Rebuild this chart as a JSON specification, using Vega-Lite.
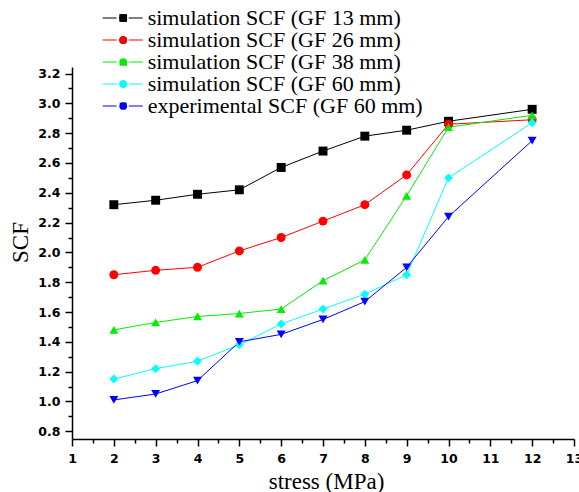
{
  "$schema": "https://vega.github.io/schema/vega-lite/v6.json",
  "width": 502,
  "height": 372,
  "autosize": {"type": "none"},
  "padding": {"left": 72, "top": 67, "right": 5, "bottom": 53},
  "background": "white",
  "config": {
    "view": {"stroke": null},
    "axis": {
      "grid": false,
      "labelFont": "DejaVu Sans",
      "labelFontWeight": "bold",
      "labelFontSize": 12.5,
      "labelColor": "black",
      "domainColor": "black",
      "domainWidth": 1.5,
      "tickColor": "black",
      "tickWidth": 1.5,
      "titleFont": "Liberation Serif",
      "titleFontWeight": "normal",
      "titleFontSize": 23,
      "titleColor": "black"
    }
  },
  "data": {
    "values": [
      {"series": "simulation SCF (GF 13 mm)", "stress": 2, "SCF": 2.32},
      {"series": "simulation SCF (GF 13 mm)", "stress": 3, "SCF": 2.35},
      {"series": "simulation SCF (GF 13 mm)", "stress": 4, "SCF": 2.39},
      {"series": "simulation SCF (GF 13 mm)", "stress": 5, "SCF": 2.42},
      {"series": "simulation SCF (GF 13 mm)", "stress": 6, "SCF": 2.57},
      {"series": "simulation SCF (GF 13 mm)", "stress": 7, "SCF": 2.68},
      {"series": "simulation SCF (GF 13 mm)", "stress": 8, "SCF": 2.78},
      {"series": "simulation SCF (GF 13 mm)", "stress": 9, "SCF": 2.82},
      {"series": "simulation SCF (GF 13 mm)", "stress": 10, "SCF": 2.88},
      {"series": "simulation SCF (GF 13 mm)", "stress": 12, "SCF": 2.96},
      {"series": "simulation SCF (GF 26 mm)", "stress": 2, "SCF": 1.85},
      {"series": "simulation SCF (GF 26 mm)", "stress": 3, "SCF": 1.88},
      {"series": "simulation SCF (GF 26 mm)", "stress": 4, "SCF": 1.9},
      {"series": "simulation SCF (GF 26 mm)", "stress": 5, "SCF": 2.01},
      {"series": "simulation SCF (GF 26 mm)", "stress": 6, "SCF": 2.1},
      {"series": "simulation SCF (GF 26 mm)", "stress": 7, "SCF": 2.21},
      {"series": "simulation SCF (GF 26 mm)", "stress": 8, "SCF": 2.32},
      {"series": "simulation SCF (GF 26 mm)", "stress": 9, "SCF": 2.52},
      {"series": "simulation SCF (GF 26 mm)", "stress": 10, "SCF": 2.86},
      {"series": "simulation SCF (GF 26 mm)", "stress": 12, "SCF": 2.89},
      {"series": "simulation SCF (GF 38 mm)", "stress": 2, "SCF": 1.48},
      {"series": "simulation SCF (GF 38 mm)", "stress": 3, "SCF": 1.53},
      {"series": "simulation SCF (GF 38 mm)", "stress": 4, "SCF": 1.57},
      {"series": "simulation SCF (GF 38 mm)", "stress": 5, "SCF": 1.59},
      {"series": "simulation SCF (GF 38 mm)", "stress": 6, "SCF": 1.62},
      {"series": "simulation SCF (GF 38 mm)", "stress": 7, "SCF": 1.81},
      {"series": "simulation SCF (GF 38 mm)", "stress": 8, "SCF": 1.95},
      {"series": "simulation SCF (GF 38 mm)", "stress": 9, "SCF": 2.38},
      {"series": "simulation SCF (GF 38 mm)", "stress": 10, "SCF": 2.84},
      {"series": "simulation SCF (GF 38 mm)", "stress": 12, "SCF": 2.92},
      {"series": "simulation SCF (GF 60 mm)", "stress": 2, "SCF": 1.15},
      {"series": "simulation SCF (GF 60 mm)", "stress": 3, "SCF": 1.22},
      {"series": "simulation SCF (GF 60 mm)", "stress": 4, "SCF": 1.27},
      {"series": "simulation SCF (GF 60 mm)", "stress": 5, "SCF": 1.38},
      {"series": "simulation SCF (GF 60 mm)", "stress": 6, "SCF": 1.52},
      {"series": "simulation SCF (GF 60 mm)", "stress": 7, "SCF": 1.62},
      {"series": "simulation SCF (GF 60 mm)", "stress": 8, "SCF": 1.72},
      {"series": "simulation SCF (GF 60 mm)", "stress": 9, "SCF": 1.85},
      {"series": "simulation SCF (GF 60 mm)", "stress": 10, "SCF": 2.5},
      {"series": "simulation SCF (GF 60 mm)", "stress": 12, "SCF": 2.87},
      {"series": "experimental SCF (GF 60 mm)", "stress": 2, "SCF": 1.01},
      {"series": "experimental SCF (GF 60 mm)", "stress": 3, "SCF": 1.05},
      {"series": "experimental SCF (GF 60 mm)", "stress": 4, "SCF": 1.14},
      {"series": "experimental SCF (GF 60 mm)", "stress": 5, "SCF": 1.4},
      {"series": "experimental SCF (GF 60 mm)", "stress": 6, "SCF": 1.45},
      {"series": "experimental SCF (GF 60 mm)", "stress": 7, "SCF": 1.55},
      {"series": "experimental SCF (GF 60 mm)", "stress": 8, "SCF": 1.67},
      {"series": "experimental SCF (GF 60 mm)", "stress": 9, "SCF": 1.9},
      {"series": "experimental SCF (GF 60 mm)", "stress": 10, "SCF": 2.24},
      {"series": "experimental SCF (GF 60 mm)", "stress": 12, "SCF": 2.75}
    ]
  },
  "encoding": {
    "x": {
      "field": "stress",
      "type": "quantitative",
      "scale": {"domain": [1, 13], "nice": false, "zero": false},
      "axis": {
        "values": [1, 1.5, 2, 2.5, 3, 3.5, 4, 4.5, 5, 5.5, 6, 6.5, 7, 7.5, 8, 8.5, 9, 9.5, 10, 10.5, 11, 11.5, 12, 12.5, 13],
        "labelExpr": "datum.value % 1 === 0 ? format(datum.value, 'd') : ''",
        "tickSize": {"condition": {"test": "datum.value % 1 === 0", "value": 7}, "value": 4},
        "labelPadding": 6,
        "labelFlush": false,
        "labelOverlap": false,
        "title": "stress (MPa)",
        "titleX": 254,
        "titleY": 49.7,
        "titleBaseline": "alphabetic"
      }
    },
    "y": {
      "field": "SCF",
      "type": "quantitative",
      "scale": {"domain": [0.748, 3.244], "nice": false, "zero": false},
      "axis": {
        "values": [0.8, 0.9, 1.0, 1.1, 1.2, 1.3, 1.4, 1.5, 1.6, 1.7, 1.8, 1.9, 2.0, 2.1, 2.2, 2.3, 2.4, 2.5, 2.6, 2.7, 2.8, 2.9, 3.0, 3.1, 3.2],
        "labelExpr": "round(datum.value * 10) % 2 === 0 ? format(datum.value, '.1f') : ''",
        "tickSize": {"condition": {"test": "round(datum.value * 10) % 2 === 0", "value": 7}, "value": 4},
        "labelPadding": 5,
        "labelOverlap": false,
        "title": "SCF",
        "titleX": -45,
        "titleY": 175,
        "titleAngle": -90,
        "titleBaseline": "alphabetic"
      }
    }
  },
  "layer": [
    {
      "mark": {"type": "line", "strokeWidth": 1},
      "encoding": {
        "stroke": {
          "field": "series",
          "type": "nominal",
          "scale": {
            "domain": ["simulation SCF (GF 13 mm)", "simulation SCF (GF 26 mm)", "simulation SCF (GF 38 mm)", "simulation SCF (GF 60 mm)", "experimental SCF (GF 60 mm)"],
            "range": ["#000000", "#ff0000", "#00ee00", "#00ffff", "#0000ff"]
          },
          "legend": {
            "orient": "none",
            "legendX": 39.7,
            "legendY": -60,
            "title": null,
            "padding": 0,
            "symbolType": "M-4,0H-1.2M1.2,0H4",
            "symbolSize": 100,
            "symbolStrokeWidth": 1,
            "labelFont": "Liberation Serif",
            "labelFontSize": 22,
            "labelColor": "black",
            "labelOffset": 14,
            "labelLimit": 450,
            "rowPadding": 0
          }
        }
      }
    },
    {
      "mark": {"type": "point", "filled": true, "size": 80, "opacity": 1, "strokeWidth": 0},
      "encoding": {
        "fill": {
          "field": "series",
          "type": "nominal",
          "sort": ["simulation SCF (GF 13 mm)", "simulation SCF (GF 26 mm)", "simulation SCF (GF 38 mm)", "simulation SCF (GF 60 mm)", "experimental SCF (GF 60 mm)"],
          "scale": {"range": ["#000000", "#ff0000", "#00ee00", "#00ffff", "#0000ff"]},
          "legend": {
            "orient": "none",
            "legendX": 40.2,
            "legendY": -60,
            "title": null,
            "padding": 0,
            "symbolSize": 60,
            "symbolStrokeWidth": 0,
            "labelFont": "Liberation Serif",
            "labelFontSize": 22,
            "labelExpr": "' '",
            "labelOpacity": 0,
            "labelOffset": 14,
            "labelLimit": 450,
            "rowPadding": 0
          }
        },
        "shape": {
          "field": "series",
          "type": "nominal",
          "sort": ["simulation SCF (GF 13 mm)", "simulation SCF (GF 26 mm)", "simulation SCF (GF 38 mm)", "simulation SCF (GF 60 mm)", "experimental SCF (GF 60 mm)"],
          "scale": {"range": ["square", "circle", "triangle-up", "diamond", "triangle-down"]},
          "legend": {
            "orient": "none",
            "legendX": 40.2,
            "legendY": -60,
            "title": null,
            "padding": 0,
            "symbolSize": 60,
            "symbolStrokeWidth": 0,
            "labelFont": "Liberation Serif",
            "labelFontSize": 22,
            "labelExpr": "' '",
            "labelOpacity": 0,
            "labelOffset": 14,
            "labelLimit": 450,
            "rowPadding": 0
          }
        }
      }
    }
  ]
}
